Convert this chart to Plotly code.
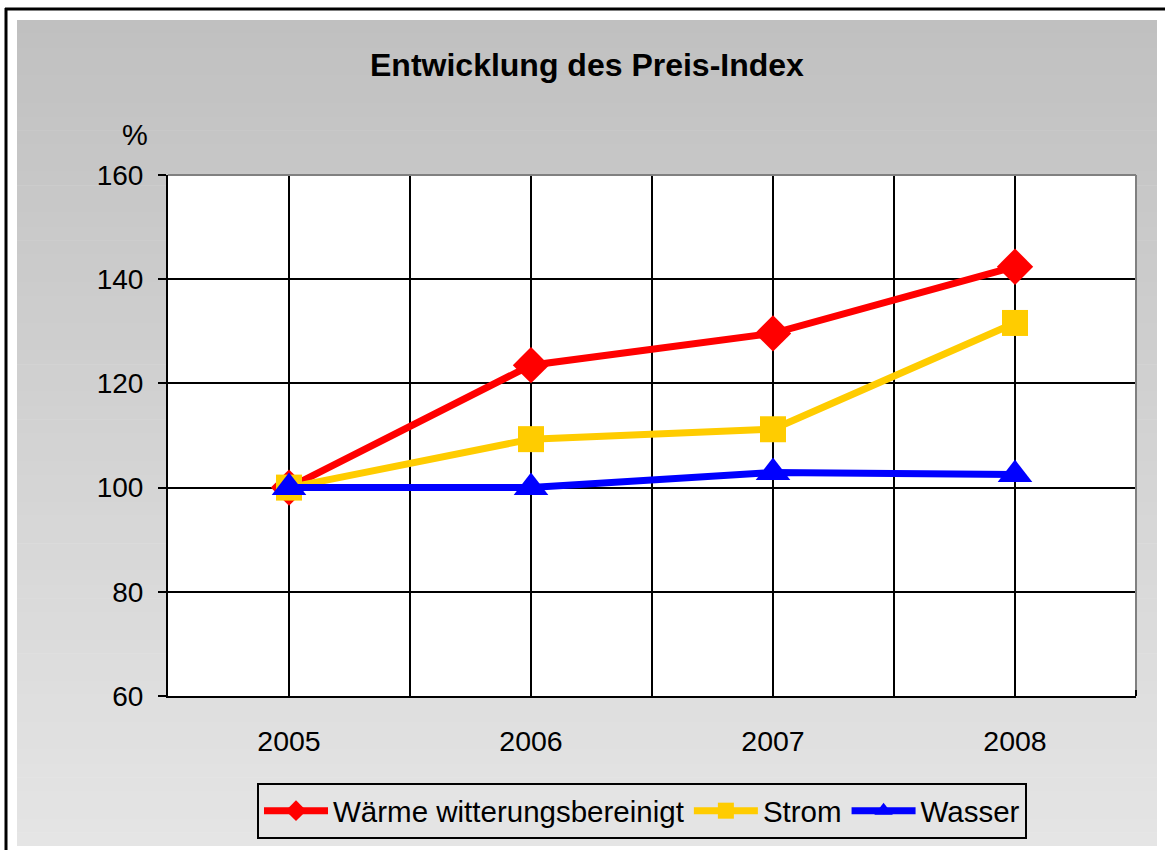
import plotly.graph_objects as go

years = ["2005", "2006", "2007", "2008"]
waerme = [100.0, 123.5, 129.6, 142.4]
strom = [100.0, 109.3, 111.2, 131.6]
wasser = [100.0, 100.0, 102.9, 102.5]

W, H = 1165, 850
L, R, T, B = 168, 1136, 175, 696  # plot area pixel box


def px(x):
    return (x - L) / (R - L)


def py(y):
    return (B - y) / (B - T)


xs = list(range(len(years)))

fig = go.Figure()
fig.add_trace(go.Scatter(x=xs, y=waerme, name="Wärme witterungsbereinigt", mode="lines+markers",
                         line=dict(color="#FF0000", width=7),
                         marker=dict(symbol="diamond", size=28, color="#FF0000", line=dict(width=0))))
fig.add_trace(go.Scatter(x=xs, y=strom, name="Strom", mode="lines+markers",
                         line=dict(color="#FFCC00", width=7),
                         marker=dict(symbol="square", size=26, color="#FFCC00", line=dict(width=0))))
fig.add_trace(go.Scatter(x=xs, y=wasser, name="Wasser", mode="lines+markers",
                         line=dict(color="#0000FF", width=7),
                         marker=dict(symbol="triangle-up", size=30, color="#0000FF", line=dict(width=0))))

shapes = []
# gradient background (bands)
top, bot = 20, 846
n = 60
c0, c1 = 192, 229
for i in range(n):
    y0 = top + (bot - top) * i / n
    y1 = top + (bot - top) * (i + 1) / n + 0.6
    c = round(c0 + (c1 - c0) * (i + 0.5) / n)
    shapes.append(dict(type="rect", xref="paper", yref="paper", layer="below",
                       x0=px(17), x1=px(1157), y0=py(y0), y1=py(min(y1, bot)),
                       fillcolor=f"rgb({c},{c},{c})", line=dict(width=0)))
# white plot area
shapes.append(dict(type="rect", xref="paper", yref="paper", layer="below",
                   x0=0, x1=1, y0=0, y1=1, fillcolor="white", line=dict(width=0)))
# gray top / right border of plot area
shapes.append(dict(type="line", xref="paper", yref="paper", layer="above",
                   x0=0, x1=1, y0=1, y1=1, line=dict(color="#808080", width=2)))
shapes.append(dict(type="line", xref="paper", yref="paper", layer="above",
                   x0=1, x1=1, y0=py(690), y1=1, line=dict(color="#808080", width=2)))
shapes.append(dict(type="line", xref="paper", yref="paper", layer="above",
                   x0=1, x1=1, y0=0, y1=py(690), line=dict(color="black", width=2)))
# outer black frame (left and top)
shapes.append(dict(type="line", xref="paper", yref="paper", layer="above",
                   x0=px(6), x1=px(6), y0=py(850), y1=py(8), line=dict(color="black", width=3)))
shapes.append(dict(type="line", xref="paper", yref="paper", layer="above",
                   x0=px(5), x1=px(1165), y0=py(9), y1=py(9), line=dict(color="black", width=3)))

fig.update_layout(
    width=W, height=H,
    margin=dict(l=L, r=W - R, t=T, b=H - B, autoexpand=False),
    paper_bgcolor="white", plot_bgcolor="white",
    font=dict(family="Liberation Sans, Arial, sans-serif", size=28, color="black"),
    shapes=shapes,
    showlegend=True,
    legend=dict(orientation="h", x=px(257), y=py(783), xanchor="left", yanchor="top",
                bgcolor="#E4E4E4", bordercolor="black", borderwidth=2,
                font=dict(size=29.5), itemwidth=64, tracegroupgap=0),
    annotations=[
        dict(text="<b>Entwicklung des Preis-Index</b>", xref="paper", yref="paper",
             x=px(587), y=py(65), xanchor="center", yanchor="middle", showarrow=False,
             font=dict(size=32)),
        dict(text="%", xref="paper", yref="paper", x=px(135), y=py(135),
             xanchor="center", yanchor="middle", showarrow=False, font=dict(size=29)),
    ],
)

fig.update_xaxes(
    range=[-0.5, 3.5], tickmode="array", tickvals=xs, ticktext=years,
    showgrid=True, gridcolor="black", gridwidth=2,
    minor=dict(tickmode="array", tickvals=[0.5, 1.5, 2.5], showgrid=True,
               gridcolor="black", gridwidth=2, ticks=""),
    showline=True, linecolor="black", linewidth=2, ticks="",
    ticklabelstandoff=19, zeroline=False, fixedrange=True, tickfont=dict(size=28.5),
)
fig.update_yaxes(
    range=[60, 160], tickmode="linear", tick0=60, dtick=20,
    showgrid=True, gridcolor="black", gridwidth=2,
    showline=True, linecolor="black", linewidth=2,
    ticks="outside", ticklen=8, tickwidth=2, tickcolor="black",
    ticklabelstandoff=9, zeroline=False, fixedrange=True, tickfont=dict(size=28),
)

fig.write_html("out.html", config={"displayModeBar": False},
               post_script="document.body.style.margin='0px';")
